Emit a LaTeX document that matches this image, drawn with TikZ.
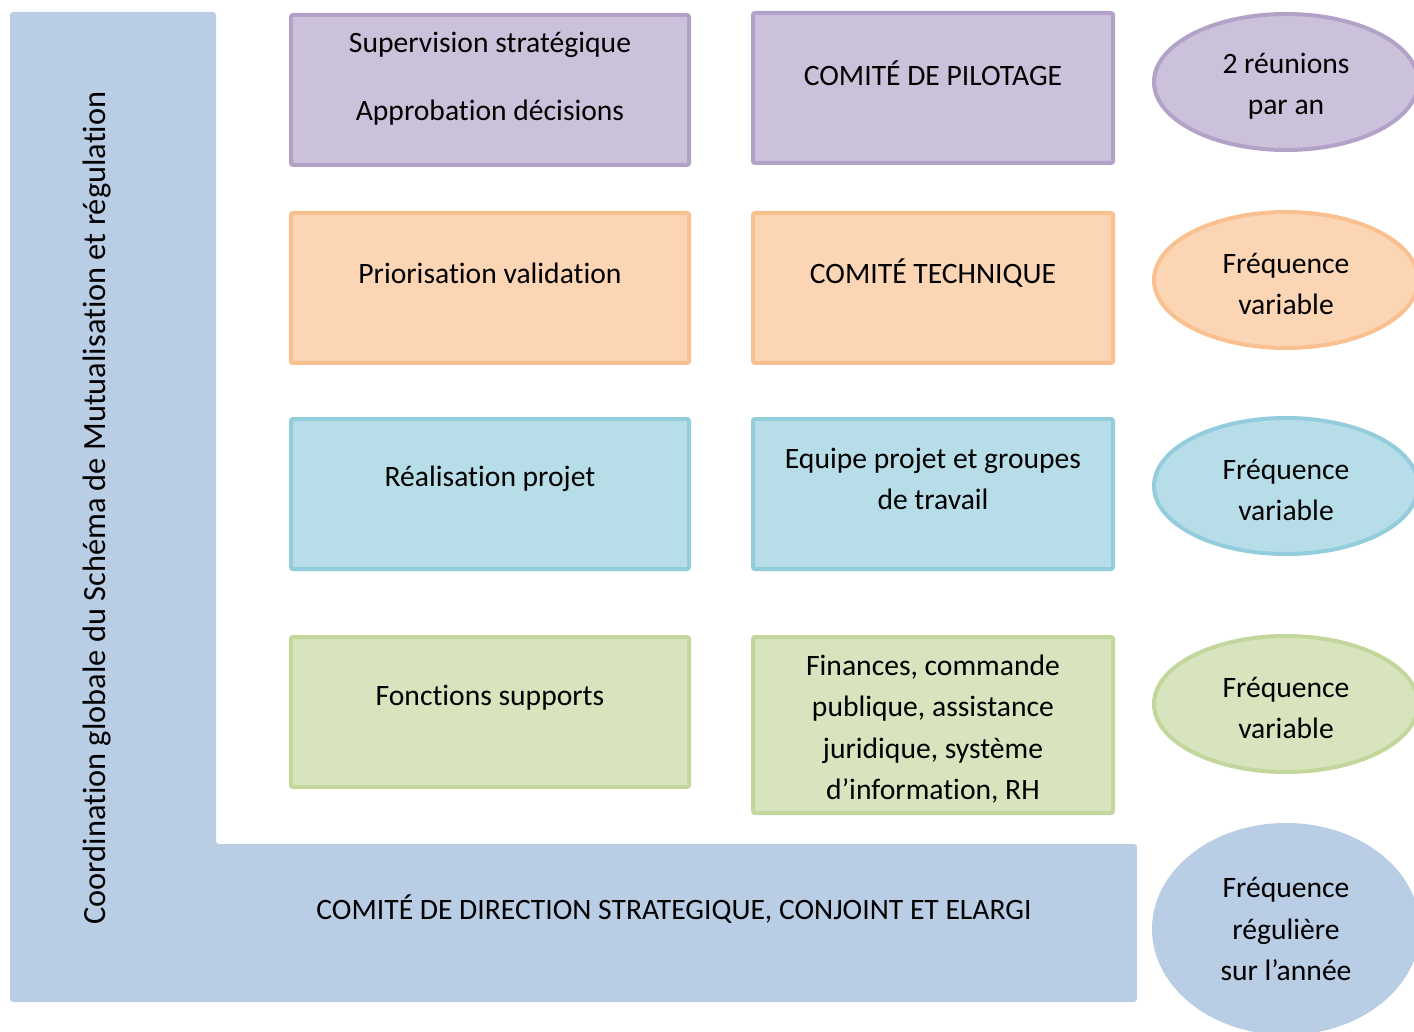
\documentclass[tikz,border=0pt]{standalone}
\usepackage{fontspec}
\setmainfont{Carlito}[Ligatures=NoCommon]
\usetikzlibrary{shapes.geometric,fit}
\definecolor{lblue}{HTML}{B9CDE5}
\definecolor{pfill}{HTML}{CCC1DA}
\definecolor{pline}{HTML}{B3A2C7}
\definecolor{ofill}{HTML}{FCD5B5}
\definecolor{oline}{HTML}{FAC090}
\definecolor{cfill}{HTML}{B7DEE8}
\definecolor{cline}{HTML}{93CDDD}
\definecolor{gfill}{HTML}{D7E4BD}
\definecolor{gline}{HTML}{C3D69B}
\tikzset{
  txt/.style={font=\fontsize{14.8}{20.75}\selectfont, align=center, inner sep=0pt, text=black},
  boxp/.style={inner sep=-1pt, line width=2pt, rounded corners=1pt},
  ell/.style={ellipse, line width=2pt, inner sep=0pt}
}
\begin{document}
\begin{tikzpicture}[x=0.5pt,y=-0.5pt]
\useasboundingbox (0,0) rectangle (1414,1032);
\fill[white] (0,0) rectangle (1414,1032);
% L-shaped band
\fill[lblue, rounded corners=1.5pt] (10,12) -- (216,12) -- (216,844) -- (1137,844) -- (1137,1002) -- (10,1002) -- cycle;
\node[txt, font=\fontsize{16.2}{20}\selectfont, rotate=90] (coord) at (97,508) {Coordination globale du Schéma de Mutualisation et régulation};
\node[txt] (cdir) at (674,909) {COMITÉ DE DIRECTION STRATEGIQUE, CONJOINT ET ELARGI};
% purple row
\node[boxp, fit={(289,13) (691,167)}, draw=pline, fill=pfill] (p1) {};
\node[boxp, fit={(751,11) (1115,165)}, draw=pline, fill=pfill] (p2) {};
\node[ell, draw=pline, fill=pfill, minimum width=132pt, minimum height=68pt] (p3) at (1286,82) {};
\node[txt] at (490,45) {Supervision stratégique};
\node[txt] at (490,113) {Approbation décisions};
\node[txt] at (933,73) {COMITÉ DE PILOTAGE};
\node[txt] at (1286,86) {2 réunions\\par an};
% orange row
\node[boxp, fit={(289,211) (691,365)}, draw=oline, fill=ofill] (o1) {};
\node[boxp, fit={(751,211) (1115,365)}, draw=oline, fill=ofill] (o2) {};
\node[ell, draw=oline, fill=ofill, minimum width=132pt, minimum height=68pt] (o3) at (1286,280) {};
\node[txt] at (490,273) {Priorisation validation};
\node[txt] at (933,273) {COMITÉ TECHNIQUE};
\node[txt] at (1286,284) {Fréquence\\variable};
% cyan row
\node[boxp, fit={(289,417) (691,571)}, draw=cline, fill=cfill] (c1) {};
\node[boxp, fit={(751,417) (1115,571)}, draw=cline, fill=cfill] (c2) {};
\node[ell, draw=cline, fill=cfill, minimum width=132pt, minimum height=68pt] (c3) at (1286,486) {};
\node[txt] at (490,479) {Réalisation projet};
\node[txt] at (933,479) {Equipe projet et groupes\\de travail};
\node[txt] at (1286,490) {Fréquence\\variable};
% green row
\node[boxp, fit={(289,635) (691,789)}, draw=gline, fill=gfill] (g1) {};
\node[boxp, fit={(751,635) (1115,815)}, draw=gline, fill=gfill] (g2) {};
\node[ell, draw=gline, fill=gfill, minimum width=132pt, minimum height=68pt] (g3) at (1286,704) {};
\node[txt] at (490,698) {Fonctions supports};
\node[txt] at (933,729) {Finances, commande\\publique, assistance\\juridique, système\\d’information, RH};
\node[txt] at (1286,708) {Fréquence\\variable};
% bottom ellipse
\node[ell, fill=lblue, minimum width=134pt, minimum height=106pt] (b3) at (1286,929) {};
\node[txt] at (1286,929) {Fréquence\\régulière\\sur l’année};
\end{tikzpicture}
\end{document}
